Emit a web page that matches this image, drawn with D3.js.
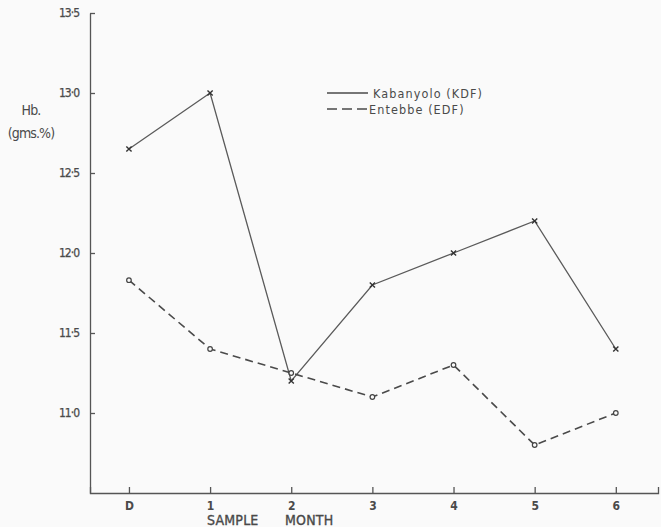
<!DOCTYPE html>
<html>
<head>
<meta charset="utf-8">
<script src="https://cdn.jsdelivr.net/npm/d3@7"></script>
<style>
  html, body { margin: 0; padding: 0; background: #fafafa; }
  svg { display: block; }
  text { font-family: "DejaVu Sans Condensed", "DejaVu Sans", sans-serif; fill: #4a4a4a; }
</style>
</head>
<body>
<svg id="chart" width="661" height="527"></svg>
<script>
// Sample months (D = initial sample) and mean haemoglobin per month
const months = [0, 1, 2, 3, 4, 5, 6];
const monthLabels = ["D", "1", "2", "3", "4", "5", "6"];
const kabanyolo = [12.65, 13.0, 11.2, 11.8, 12.0, 12.2, 11.4];
const entebbe = [11.83, 11.4, 11.25, 11.1, 11.3, 10.8, 11.0];
const yTicks = [11.0, 11.5, 12.0, 12.5, 13.0, 13.5];
const yTickLabels = ["11·0", "11·5", "12·0", "12·5", "13·0", "13·5"];
const seriesNames = ["Kabanyolo (KDF)", "Entebbe (EDF)"];
const xTitleWords = ["SAMPLE", "MONTH"];

const svg = d3.select("#chart");
const ink = "#555";

const x = d3.scaleLinear().domain([-0.48, 6.52]).range([90, 658]);
const y = d3.scaleLinear().domain([10.5, 13.5]).range([493, 13]);

// y axis: ticks point into the plot
const yAxis = d3.axisLeft(y)
  .tickValues(yTicks)
  .tickFormat((d, i) => yTickLabels[i])
  .tickSizeInner(-5)
  .tickSizeOuter(0)
  .tickPadding(11);
const gy = svg.append("g").attr("transform", `translate(${x.range()[0]},0)`).call(yAxis);
gy.select(".domain").attr("stroke", ink).attr("stroke-width", 1.3);
gy.selectAll(".tick line").attr("stroke", ink).attr("stroke-width", 1.3);
gy.selectAll(".tick text")
  .attr("font-family", "DejaVu Sans Condensed, DejaVu Sans, sans-serif")
  .attr("font-size", 12).attr("letter-spacing", -1).attr("fill", "#4a4a4a")
  .attr("stroke", "#4a4a4a").attr("stroke-width", 0.25);

// x axis: ticks point up, small end tick at the right
const xAxis = d3.axisBottom(x)
  .tickValues(months)
  .tickFormat((d, i) => monthLabels[i])
  .tickSizeInner(-6)
  .tickSizeOuter(-6)
  .tickPadding(8);
const gx = svg.append("g").attr("transform", `translate(0,${y.range()[0]})`).call(xAxis);
gx.select(".domain").attr("stroke", ink).attr("stroke-width", 1.3);
gx.selectAll(".tick line").attr("stroke", ink).attr("stroke-width", 1.3);
gx.selectAll(".tick text")
  .attr("font-family", "DejaVu Sans Condensed, DejaVu Sans, sans-serif")
  .attr("font-size", 12).attr("font-weight", "bold").attr("fill", "#555");

// axis titles
svg.append("g").selectAll("text").data(xTitleWords).join("text")
  .attr("x", (d, i) => i === 0 ? 207 : 285).attr("y", 525)
  .attr("font-size", 14).attr("letter-spacing", 0.2)
  .attr("fill", "#474747").attr("stroke", "#474747").attr("stroke-width", 0.35)
  .text(d => d);
svg.append("text").attr("x", 31).attr("y", 115).attr("text-anchor", "middle")
  .attr("font-size", 14).attr("letter-spacing", -0.8).text("Hb.");
svg.append("text").attr("x", 31).attr("y", 138).attr("text-anchor", "middle")
  .attr("font-size", 14).attr("letter-spacing", -0.9).text("(gms.%)");

const line = d3.line().x((d, i) => x(months[i])).y(d => y(d));

// Kabanyolo: solid line with small crosses
svg.append("path").datum(kabanyolo)
  .attr("d", line).attr("fill", "none").attr("stroke", "#5a5a5a").attr("stroke-width", 1.3);
const cs = 2.6;
svg.append("g").selectAll("path").data(kabanyolo).join("path")
  .attr("d", (d, i) => {
    const cx = x(months[i]), cy = y(d);
    return `M${cx - cs},${cy - cs}L${cx + cs},${cy + cs}M${cx - cs},${cy + cs}L${cx + cs},${cy - cs}`;
  })
  .attr("stroke", "#333").attr("stroke-width", 1.4);

// Entebbe: dashed line with small open circles
svg.append("path").datum(entebbe)
  .attr("d", line).attr("fill", "none").attr("stroke", "#4a4a4a")
  .attr("stroke-width", 1.6).attr("stroke-dasharray", "8,5");
svg.append("g").selectAll("circle").data(entebbe).join("circle")
  .attr("cx", (d, i) => x(months[i])).attr("cy", d => y(d)).attr("r", 2.3)
  .attr("fill", "#fafafa").attr("stroke", "#444").attr("stroke-width", 1.2);

// legend
const legend = svg.append("g").attr("transform", "translate(327,93)");
seriesNames.forEach((name, i) => {
  const row = legend.append("g").attr("transform", `translate(0,${i * 16})`);
  row.append("line").attr("x1", 0).attr("x2", 41).attr("y1", 0).attr("y2", 0)
    .attr("stroke", "#4a4a4a").attr("stroke-width", 1.3)
    .attr("stroke-dasharray", i === 1 ? "10,5" : null);
  row.append("text").attr("x", i === 1 ? 42 : 46).attr("y", 4.5)
    .attr("font-family", "DejaVu Sans, sans-serif")
    .attr("font-size", 12.5).attr("letter-spacing", 1.1).text(name);
});
</script>
</body>
</html>
